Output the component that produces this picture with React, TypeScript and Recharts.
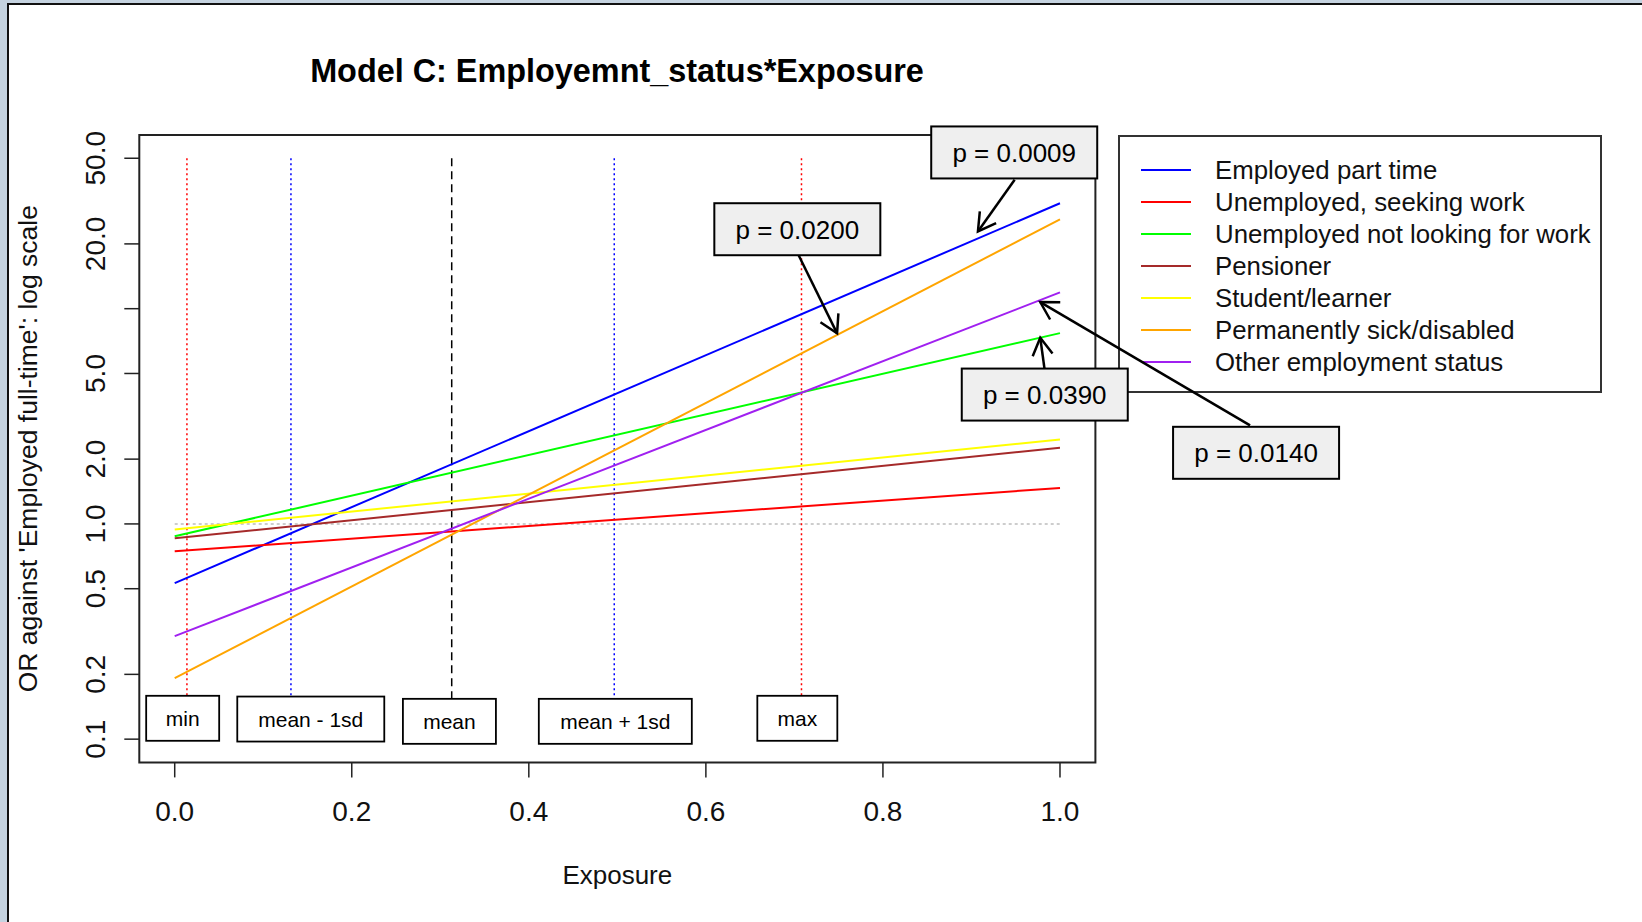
import React from 'react';
import {
  LineChart,
  Line,
  XAxis,
  YAxis,
  ReferenceLine,
  ReferenceDot,
  ReferenceArea,
  Legend,
} from 'recharts';

// ---------- data ----------
const exposure = [0, 1];
const seriesNames = [
  'Employed part time',
  'Unemployed, seeking work',
  'Unemployed not looking for work',
  'Pensioner',
  'Student/learner',
  'Permanently sick/disabled',
  'Other employment status',
];
const seriesKeys = ['partTime', 'seeking', 'notLooking', 'pensioner', 'student', 'sick', 'other'];
const partTime = [0.531, 30.9];
const seeking = [0.746, 1.47];
const notLooking = [0.876, 7.7];
const pensioner = [0.857, 2.26];
const student = [0.941, 2.47];
const sick = [0.192, 26.0];
const other = [0.301, 11.9];
const seriesValues = [partTime, seeking, notLooking, pensioner, student, sick, other];

const xTicks = [0, 0.2, 0.4, 0.6, 0.8, 1.0];
const xTickLabels = ['0.0', '0.2', '0.4', '0.6', '0.8', '1.0'];
const yTicks = [0.1, 0.2, 0.5, 1, 2, 5, 10, 20, 50];
const yTickLabels = ['0.1', '0.2', '0.5', '1.0', '2.0', '5.0', '', '20.0', '50.0'];

const markerNames = ['min', 'mean - 1sd', 'mean', 'mean + 1sd', 'max'];
const markerX = [0.0138, 0.1313, 0.3129, 0.4965, 0.708];
const markerTop = 50;
const markerBottom = 0.125;
const markerBoxX = [0.009, 0.1537, 0.3103, 0.4977, 0.7033];
const markerBoxY = [0.125, 0.124, 0.121, 0.121, 0.125];

const pLabels = ['p = 0.0009', 'p = 0.0200', 'p = 0.0390', 'p = 0.0140'];
const pBoxX = [0.9483, 0.7033, 0.9828, 1.2215];
const pBoxY = [53.2, 23.4, 3.99, 2.14];
const arrowFromX = [0.9488, 0.7045, 0.9825, 1.2147];
const arrowFromY = [39.7, 17.8, 5.26, 2.87];
const arrowToX = [0.9073, 0.7482, 0.9777, 0.9777];
const arrowToY = [22.86, 7.68, 7.33, 10.73];

const refLineX = [0, 1];
const refLineY = 1;

const title = 'Model C: Employemnt_status*Exposure';
const xTitle = 'Exposure';
const yTitle = "OR against 'Employed full-time': log scale";

// ---------- styles ----------
const FONT = '"Liberation Sans", Arial, Helvetica, sans-serif';
const seriesColors = ['#0000ff', '#ff0000', '#00ff00', '#a52a2a', '#ffff00', '#ffa500', '#a020f0'];
const markerColors = ['#ff0000', '#0000ff', '#000000', '#0000ff', '#ff0000'];
const markerDash = ['2 3', '2 3', '8 5', '2 3', '2 3'];
const markerBoxW = [73, 147, 93, 153, 80];
const markerBoxH = 45;
const pBoxW = 166;
const pBoxH = 52;

const X_DOMAIN: [number, number] = [-0.04, 1.04];
const Y_DOMAIN: [number, number] = [Math.pow(10, -1.108), Math.pow(10, 1.80697)];

const data = exposure.map((x, i) => {
  const row: any = { x };
  seriesKeys.forEach((k, j) => {
    row[k] = seriesValues[j][i];
  });
  return row;
});

const XTick = (props: any) => {
  const { x, y, payload } = props;
  const idx = xTicks.indexOf(payload.value);
  return (
    <text x={x} y={y + 42} textAnchor="middle" fontFamily={FONT} fontSize={28} fill="#111">
      {idx >= 0 ? xTickLabels[idx] : ''}
    </text>
  );
};

const YTick = (props: any) => {
  const { x, y, payload } = props;
  const idx = yTicks.indexOf(payload.value);
  const label = idx >= 0 ? yTickLabels[idx] : '';
  if (!label) return null;
  const tx = x - 17.5;
  return (
    <text
      x={tx}
      y={y}
      transform={`rotate(-90, ${tx}, ${y})`}
      textAnchor="middle"
      fontFamily={FONT}
      fontSize={28}
      fill="#111"
    >
      {label}
    </text>
  );
};

const arrowShape = (p: any) => {
  const { x1, y1, x2, y2 } = p;
  const ang = Math.atan2(y2 - y1, x2 - x1);
  const L = 20;
  const a = Math.PI / 6;
  const ax = x2 - L * Math.cos(ang - a);
  const ay = y2 - L * Math.sin(ang - a);
  const bx = x2 - L * Math.cos(ang + a);
  const by = y2 - L * Math.sin(ang + a);
  return (
    <g>
      <line x1={x1} y1={y1} x2={x2} y2={y2} stroke="#000" strokeWidth={2.5} />
      <path d={`M${ax},${ay} L${x2},${y2} L${bx},${by}`} fill="none" stroke="#000" strokeWidth={2.5} />
    </g>
  );
};

const boxShape = (w: number, h: number, text: string, fill: string, fs: number, sw: number) => (p: any) => {
  const { cx, cy } = p;
  return (
    <g>
      <rect x={cx - w / 2} y={cy - h / 2} width={w} height={h} fill={fill} stroke="#000" strokeWidth={sw} />
      <text
        x={cx}
        y={cy}
        dy="0.36em"
        textAnchor="middle"
        fontFamily={FONT}
        fontSize={fs}
        fill="#000"
      >
        {text}
      </text>
    </g>
  );
};

const LegendBox = () => (
  <svg width={484} height={258} style={{ display: 'block', overflow: 'visible' }}>
    <rect x={1} y={1} width={482} height={256} fill="#fff" stroke="#333" strokeWidth={2} />
    {seriesNames.map((n, i) => {
      const cy = 35 + i * 32;
      return (
        <g key={n}>
          <line x1={23} x2={73} y1={cy} y2={cy} stroke={seriesColors[i]} strokeWidth={2} />
          <text x={97} y={cy + 9} fontFamily={FONT} fontSize={25.8} fill="#111">
            {n}
          </text>
        </g>
      );
    })}
  </svg>
);

export default function App() {
  return (
    <div
      style={{
        position: 'absolute',
        left: 0,
        top: 0,
        width: 1642,
        height: 922,
        background: '#c5d3e0',
        overflow: 'hidden',
        zIndex: 0,
      }}
    >
      <div
        style={{
          position: 'absolute',
          left: 7,
          top: 3,
          right: 0,
          bottom: 0,
          background: '#fff',
          borderLeft: '2px solid #111',
          borderTop: '2px solid #111',
        }}
      />
      <div style={{ position: 'absolute', left: 0, top: 0, width: 1642, height: 922, zIndex: 0 }}>
        <LineChart
          width={1642}
          height={922}
          data={data}
          margin={{ top: 135, right: 546.6, bottom: 99.6, left: 79.3 }}
        >
          <XAxis
            dataKey="x"
            type="number"
            domain={X_DOMAIN}
            ticks={xTicks}
            allowDataOverflow
            axisLine={false}
            tickLine={{ stroke: '#222', strokeWidth: 1.5 }}
            tickSize={15}
            tickMargin={2}
            height={60}
            tick={<XTick />}
            interval={0}
            label={() => (
              <text x={617.3} y={884} textAnchor="middle" fontFamily={FONT} fontSize={26} fill="#111">
                {xTitle}
              </text>
            )}
          />
          <YAxis
            type="number"
            scale="log"
            domain={Y_DOMAIN}
            ticks={yTicks}
            allowDataOverflow
            axisLine={false}
            tickLine={{ stroke: '#222', strokeWidth: 1.5 }}
            tickSize={15}
            tickMargin={2}
            width={60}
            tick={<YTick />}
            interval={0}
            label={() => (
              <text
                x={37}
                y={448.7}
                transform="rotate(-90, 37, 448.7)"
                textAnchor="middle"
                fontFamily={FONT}
                fontSize={26.5}
                fill="#111"
              >
                {yTitle}
              </text>
            )}
          />
          <ReferenceArea
            x1={X_DOMAIN[0]}
            x2={X_DOMAIN[1]}
            y1={Y_DOMAIN[0]}
            y2={Y_DOMAIN[1]}
            fill="none"
            fillOpacity={0}
            stroke="#222"
            strokeWidth={2}
            ifOverflow="visible"
          />
          <ReferenceLine
            segment={[
              { x: refLineX[0], y: refLineY },
              { x: refLineX[1], y: refLineY },
            ]}
            stroke="#bdbdbd"
            strokeWidth={1.5}
            strokeDasharray="3 3"
            ifOverflow="visible"
          />
          {markerX.map((mx, i) => (
            <ReferenceLine
              key={'m' + i}
              segment={[
                { x: mx, y: markerTop },
                { x: mx, y: markerBottom },
              ]}
              stroke={markerColors[i]}
              strokeWidth={1.5}
              strokeDasharray={markerDash[i]}
              ifOverflow="visible"
            />
          ))}
          {seriesKeys.map((k, i) => (
            <Line
              key={k}
              type="linear"
              dataKey={k}
              name={seriesNames[i]}
              stroke={seriesColors[i]}
              strokeWidth={2}
              dot={false}
              activeDot={false}
              isAnimationActive={false}
            />
          ))}
          {markerNames.map((n, i) => (
            <ReferenceDot
              key={'mb' + i}
              x={markerBoxX[i]}
              y={markerBoxY[i]}
              r={1}
              ifOverflow="visible"
              shape={boxShape(markerBoxW[i], markerBoxH, n, '#fff', 21, 1.8)}
            />
          ))}
          {pLabels.map((t, i) => (
            <ReferenceLine
              key={'a' + i}
              segment={[
                { x: arrowFromX[i], y: arrowFromY[i] },
                { x: arrowToX[i], y: arrowToY[i] },
              ]}
              ifOverflow="visible"
              shape={arrowShape}
            />
          ))}
          {pLabels.map((t, i) => (
            <ReferenceDot
              key={'p' + i}
              x={pBoxX[i]}
              y={pBoxY[i]}
              r={1}
              ifOverflow="visible"
              shape={boxShape(pBoxW, pBoxH, t, '#efefef', 26, 2)}
            />
          ))}
          <Legend
            verticalAlign="middle"
            layout="horizontal"
            wrapperStyle={{ position: 'absolute', left: 1118, top: 135, width: 484, height: 258, zIndex: -1 }}
            content={() => <LegendBox />}
          />
        </LineChart>
      </div>
      <div
        style={{
          position: 'absolute',
          left: 217,
          top: 55.3,
          width: 800,
          textAlign: 'center',
          fontFamily: FONT,
          fontWeight: 'bold',
          fontSize: 32.4,
          lineHeight: '32.4px',
          color: '#000',
          whiteSpace: 'nowrap',
        }}
      >
        {title}
      </div>
    </div>
  );
}
